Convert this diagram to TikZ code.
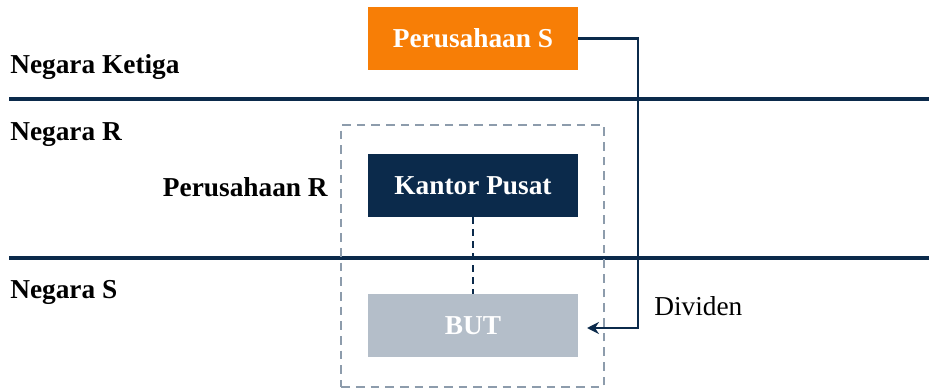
\documentclass[tikz,border=0pt]{standalone}
\usepackage{fontspec}
\setmainfont{Liberation Serif}
\usetikzlibrary{arrows.meta}
\definecolor{navy}{HTML}{0B2A4B}
\definecolor{oranje}{HTML}{F77E06}
\definecolor{abu}{HTML}{B4BEC9}
\definecolor{garis}{HTML}{8D9CAC}

\begin{document}
\begin{tikzpicture}[x=.75pt,y=-.75pt,
    kotak/.style={minimum width=157.5pt,minimum height=47.25pt,inner sep=0pt,
      font=\fontsize{20.5}{25}\selectfont\bfseries,text=white},
    tulisan/.style={font=\fontsize{20.5}{25}\selectfont\bfseries,inner sep=0pt},
    batas/.style={navy,line width=2.4pt}]
  \useasboundingbox (0,0) rectangle (929,389);
  % batas negara
  \draw[batas] (9,99) -- (929,99); \draw[batas] (9,258) -- (929,258);
  \node[tulisan,anchor=base west] (ketiga) at (10,73) {Negara Ketiga};
  \node[tulisan,anchor=base west] (negR) at (10,140) {Negara R};
  \node[tulisan,anchor=base west] (negS) at (10,298) {Negara S};
  % perusahaan R = kantor pusat + BUT
  \node[draw=garis,dashed,line width=1.6pt,dash pattern=on 6.5pt off 4.5pt,
    minimum width=197pt,minimum height=196pt] (grupR) at (472.5,256) {};
  \node[tulisan,anchor=base east] (perR) at (328,196) {Perusahaan R};
  \node[kotak,fill=oranje] (perS) at (473,38.5) {Perusahaan S};
  \node[kotak,fill=navy] (pusat) at (473,185.5) {Kantor Pusat};
  \node[kotak,fill=abu] (but) at (473,325.5) {BUT};
  \draw[navy,line width=1.6pt,dash pattern=on 5pt off 4pt] (pusat) -- (but);
  % dividen dari S ke BUT
  \coordinate (belok) at (638,328); \coordinate (tiba) at (587,328);
  \draw[navy,line width=1.9pt,-{Stealth[length=9pt,width=9pt,inset=3pt]}]
    (perS.east) -| (belok) -- (tiba);
  \node[font=\fontsize{20.5}{25}\selectfont,inner sep=0pt,anchor=base west]
    (dividen) at (654,315) {Dividen};
\end{tikzpicture}
\end{document}
